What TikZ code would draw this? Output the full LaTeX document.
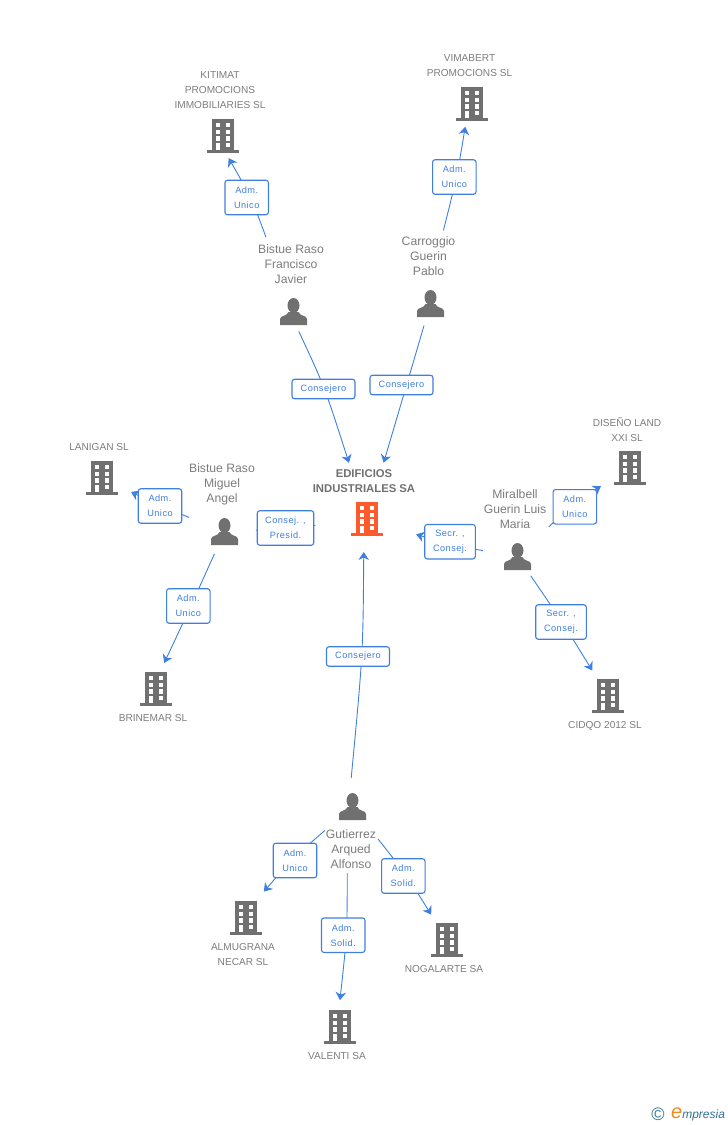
\documentclass[tikz,border=0pt]{standalone}
\usepackage{fontspec}
\setmainfont{Liberation Sans}
\newfontfamily\rolefont[LetterSpace=5]{Liberation Sans}
\usetikzlibrary{arrows.meta,backgrounds}
\definecolor{iconGray}{HTML}{707070}
\definecolor{iconOrange}{HTML}{FF5A2B}
\definecolor{textGray}{HTML}{7C7C7C}
\definecolor{linkBlue}{HTML}{3F7FE0}
\definecolor{logoTeal}{HTML}{2F7391}
\definecolor{logoOrange}{HTML}{F28A1E}
\newcommand{\buildingshape}[1]{
	\fill[#1] (-11,-17) rectangle (11,14);
	\fill[#1] (-16,14) rectangle (16,17);
	\fill[white] (-7.5,-13.3) rectangle (-2.8,-8.7);
	\fill[white] (2.5,-13.3) rectangle (7.2,-8.7);
	\fill[white] (-7.5,-6.5) rectangle (-2.8,-1.9);
	\fill[white] (2.5,-6.5) rectangle (7.2,-1.9);
	\fill[white] (-7.5,0.2) rectangle (-2.8,4.8);
	\fill[white] (2.5,0.2) rectangle (7.2,4.8);
	\fill[white] (-7.5,7) rectangle (-2.8,14);
	\fill[white] (2.5,6.6) rectangle (7.2,11.2);
}
\newcommand{\personshape}{
	\fill[iconGray] (0,-6) ellipse (6 and 7.5);
	\fill[iconGray] (-13.5,13.5) -- (-13.5,7.5) .. controls (-13.5,4) and (-6,4.5) .. (-5,0.5) -- (5,0.5) .. controls (6,4.5) and (13.5,4) .. (13.5,7.5) -- (13.5,13.5) -- cycle;
}
\tikzset{
	bldg/.style={minimum width=32pt,minimum height=34pt,inner sep=0pt,path picture={\buildingshape{#1}}},
	bldg/.default=iconGray,
	person/.style={minimum width=27pt,minimum height=27pt,inner sep=0pt,path picture={\personshape}},
	firm/.style={align=center,inner sep=0pt,text=textGray,font=\fontsize{10.1}{15}\selectfont},
	mainfirm/.style={align=center,inner sep=0pt,text=iconGray,font=\fontsize{11.3}{15}\selectfont\bfseries},
	persname/.style={align=center,inner sep=0pt,text=textGray,font=\fontsize{12.2}{15}\selectfont},
	role/.style={draw=linkBlue,line width=1.1pt,fill=white,rounded corners=2.5pt,inner sep=0pt,align=center,text=linkBlue,minimum width=#1,minimum height=34.5pt,font=\rolefont\fontsize{9.2}{15}\selectfont},
	role/.default=43.5pt,
	roleline/.style={role=63pt,minimum height=19.5pt},
	linkbare/.style={draw=linkBlue,line width=0.9pt},
	link/.style={linkbare,-{Stealth[length=8pt,width=10.5pt,inset=2.5pt]}}
}
\begin{document}
\begin{tikzpicture}[x=1pt,y=-1pt]
	\useasboundingbox (0,0) rectangle (728,1125);
	\node[bldg=iconOrange] (edif) at (367,519) {};
	\node[mainfirm] (edifname) at (364,481) {EDIFICIOS\\INDUSTRIALES SA};
	\node[bldg] (kitimat) at (223,136) {};
	\node[firm] (kitimatname) at (220,90.5) {KITIMAT\\PROMOCIONS\\IMMOBILIARIES SL};
	\node[bldg] (vimabert) at (472,104) {};
	\node[firm] (vimabertname) at (469.5,66) {VIMABERT\\PROMOCIONS SL};
	\node[bldg] (lanigan) at (102,478) {};
	\node[firm] (laniganname) at (99,447.5) {LANIGAN SL};
	\node[bldg] (diseno) at (630,468) {};
	\node[firm] (disenoname) at (627,430) {DISEÑO LAND\\XXI SL};
	\node[bldg] (brinemar) at (156,689) {};
	\node[firm] (brinemarname) at (153,718.5) {BRINEMAR SL};
	\node[bldg] (cidqo) at (608,696) {};
	\node[firm] (cidqoname) at (605,725.5) {CIDQO 2012 SL};
	\node[bldg] (almugrana) at (246,918) {};
	\node[firm] (almugrananame) at (243,955) {ALMUGRANA\\NECAR SL};
	\node[bldg] (nogalarte) at (447,940) {};
	\node[firm] (nogalartename) at (444,969.5) {NOGALARTE SA};
	\node[bldg] (valenti) at (340,1027) {};
	\node[firm] (valentiname) at (337,1056.5) {VALENTI SA};
	\node[person] (francisco) at (293.5,311.5) {};
	\node[persname] (francisconame) at (291,264) {Bistue Raso\\Francisco\\Javier};
	\node[person] (pablo) at (430.5,303.5) {};
	\node[persname] (pabloname) at (428.5,256) {Carroggio\\Guerin\\Pablo};
	\node[person] (miguel) at (224.5,531.5) {};
	\node[persname] (miguelname) at (222,484) {Bistue Raso\\Miguel\\Angel};
	\node[person] (luis) at (517.5,556.5) {};
	\node[persname] (luisname) at (515,509) {Miralbell\\Guerin Luis\\Maria};
	\node[person] (alfonso) at (352.5,806.5) {};
	\node[persname] (alfonsoname) at (351,849) {Gutierrez\\Arqued\\Alfonso};
	\node[roleline] (r1) at (323.5,389) {Consejero};
	\node[roleline] (r2) at (401.5,385) {Consejero};
	\node[role] (r3) at (246.7,197.5) {Adm.\\Unico};
	\node[role] (r4) at (454.3,177) {Adm.\\Unico};
	\node[role] (r5) at (160,506) {Adm.\\Unico};
	\node[role=56.5pt] (r6) at (285.5,528) {Consej. ,\\Presid.};
	\node[role] (r7) at (188.3,606) {Adm.\\Unico};
	\node[role=50.6pt] (r8) at (450,541.7) {Secr. ,\\Consej.};
	\node[role] (r9) at (574.8,506.8) {Adm.\\Unico};
	\node[role=50.6pt] (r10) at (561,622) {Secr. ,\\Consej.};
	\node[roleline] (r11) at (358,656.5) {Consejero};
	\node[role] (r12) at (295,860.5) {Adm.\\Unico};
	\node[role] (r13) at (343.2,935.2) {Adm.\\Solid.};
	\node[role] (r14) at (403.3,876) {Adm.\\Solid.};
	\node[inner sep=0pt,text=logoTeal,font=\fontsize{18}{18}\selectfont] (copyr) at (658,1114) {©};
	\node[anchor=base west,inner sep=0pt,text=logoTeal,font=\fontsize{12}{12}\selectfont\itshape] (logo) at (671,1118) {\textcolor{logoOrange}{\fontsize{20}{20}\selectfont e}mpresia};
	\begin{scope}[on background layer]
		\draw[link,shorten <=22pt,shorten >=59pt] ([xshift=-4pt]francisco.center) .. controls (324.3,386) .. (edif.center);
		\draw[link,shorten <=23pt,shorten >=58.7pt] (pablo.center) .. controls (403.5,395.5) .. (edif.center);
		\draw[link,shorten <=79.2pt,shorten >=25.5pt] (francisco.center) .. controls (251.5,198) .. ([xshift=-7pt]kitimat.center);
		\draw[link,shorten <=75.4pt,shorten >=23pt] ([xshift=-5.5pt]pablo.center) .. controls (457,176.5) .. ([xshift=-3pt]vimabert.center);
		\draw[link,shorten <=38.1pt,shorten >=32.2pt] (miguel.center) .. controls (160.2,505.9) .. (lanigan.center);
		\draw[linkbare,shorten <=31.5pt,shorten >=52pt] (miguel.center) .. controls (285.4,529) .. (edif.center);
		\draw[link,shorten <=24.6pt,shorten >=28.8pt] (miguel.center) .. controls (191.5,604.8) .. ([xshift=-4pt]brinemar.center);
		\draw[link,shorten <=35.1pt,shorten >=51.5pt] (luis.center) .. controls (450,545) .. (edif.center);
		\draw[link,shorten <=43pt,shorten >=34.2pt] (luis.center) .. controls (574,503) .. (diseno.center);
		\draw[link,shorten <=23.4pt,shorten >=30pt] (luis.center) .. controls (562.1,621.6) .. (cidqo.center);
		\draw[link,shorten <=28.6pt,shorten >=33pt] ([xshift=-4pt]alfonso.center) .. controls (363,653.7) .. ([xshift=-3pt]edif.center);
		\draw[link,shorten <=36.6pt,shorten >=34.9pt] (alfonso.center) .. controls (292,859) .. ([xshift=-5pt]almugrana.center);
		\draw[link,shorten <=66.5pt,shorten >=27pt] ([xshift=-5pt]alfonso.center) .. controls (347.1,934.6) .. ([xshift=-3pt]valenti.center);
		\draw[link,shorten <=41.4pt,shorten >=29.9pt] (alfonso.center) .. controls (406.8,875.5) .. (nogalarte.center);
	\end{scope}
\end{tikzpicture}
\end{document}
